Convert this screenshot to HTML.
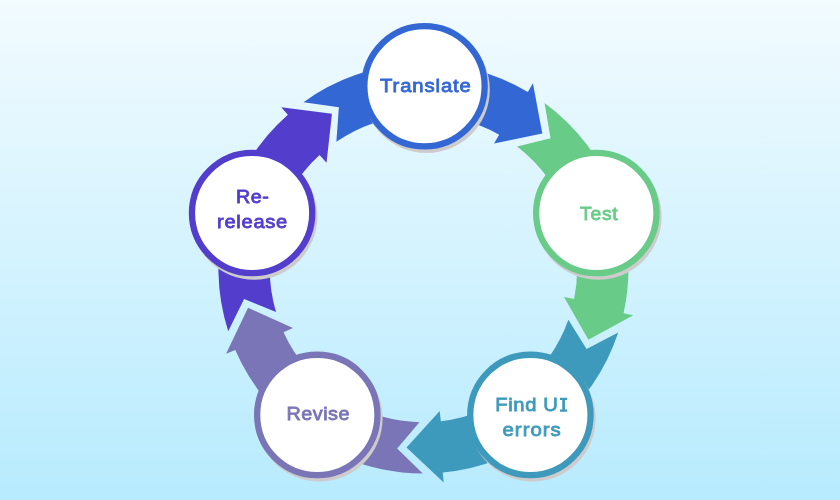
<!DOCTYPE html>
<html><head><meta charset="utf-8"><style>
html,body{margin:0;padding:0;}
body{width:840px;height:500px;overflow:hidden;background:linear-gradient(to bottom,#f2fbfe 0%,#b7ebfe 100%);}
svg{display:block;will-change:transform;}
text{font-family:"Liberation Sans",sans-serif;font-weight:normal;font-size:19.00px;stroke-width:0.80px;}
</style></head><body>
<svg width="840" height="500" viewBox="0 0 840 500">
<defs><filter id="bl" x="-10%" y="-10%" width="120%" height="120%"><feGaussianBlur stdDeviation="0.50"/></filter></defs>
<path d="M303.50 102.14 A205.05 205.05 0 0 1 527.83 91.95 L532.92 83.35 L542.32 133.62 L494.09 143.60 L499.16 134.63 A153.75 153.75 0 0 0 336.37 141.74 L338.87 107.35 Z" fill="#3367d4"/>
<path d="M544.55 102.98 A205.05 205.05 0 0 1 623.56 313.18 L633.32 315.36 L588.42 339.84 L564.02 297.05 L574.11 299.10 A153.75 153.75 0 0 0 517.05 146.47 L550.53 138.23 Z" fill="#68cc88"/>
<path d="M618.24 332.49 A205.05 205.05 0 0 1 442.75 472.59 L443.69 482.55 L406.53 447.40 L439.69 410.98 L440.85 421.21 A153.75 153.75 0 0 0 568.38 319.77 L586.57 349.07 Z" fill="#3e9abc"/>
<path d="M422.73 473.50 A205.05 205.05 0 0 1 235.26 349.89 L226.09 353.86 L248.03 307.66 L292.92 327.94 L283.54 332.21 A153.75 153.75 0 0 0 419.43 422.15 L397.18 448.49 Z" fill="#7975b6"/>
<path d="M228.22 331.13 A205.05 205.05 0 0 1 287.85 114.64 L281.23 107.14 L331.95 113.73 L326.54 162.69 L319.58 155.09 A153.75 153.75 0 0 0 276.03 312.12 L244.10 299.11 Z" fill="#523dcc"/>
<circle cx="426.50" cy="89.70" r="63.30" fill="#cdcbcb" filter="url(#bl)"/>
<circle cx="424.50" cy="86.30" r="60.15" fill="#fff" stroke="#3367d4" stroke-width="6.30"/>
<text x="380.02" y="92.16" textLength="91.69" lengthAdjust="spacingAndGlyphs" letter-spacing="0.825" fill="#3367d4" stroke="#3367d4">Translate</text>
<circle cx="598.30" cy="216.40" r="63.30" fill="#cdcbcb" filter="url(#bl)"/>
<circle cx="596.30" cy="213.00" r="60.15" fill="#fff" stroke="#68cc88" stroke-width="6.30"/>
<text x="580.10" y="220.07" textLength="38.24" lengthAdjust="spacingAndGlyphs" letter-spacing="0.757" fill="#68cc88" stroke="#68cc88">Test</text>
<circle cx="532.40" cy="418.30" r="63.30" fill="#cdcbcb" filter="url(#bl)"/>
<circle cx="530.40" cy="414.90" r="60.15" fill="#fff" stroke="#3e9abc" stroke-width="6.30"/>
<text x="495.25" y="411.01" textLength="63.27" lengthAdjust="spacingAndGlyphs" letter-spacing="0.603" fill="#3e9abc" stroke="#3e9abc">Find U</text>
<text x="502.50" y="435.92" textLength="59.27" lengthAdjust="spacingAndGlyphs" letter-spacing="0.938" fill="#3e9abc" stroke="#3e9abc">errors</text>
<circle cx="319.30" cy="418.30" r="63.30" fill="#cdcbcb" filter="url(#bl)"/>
<circle cx="317.30" cy="414.90" r="60.15" fill="#fff" stroke="#7975b6" stroke-width="6.30"/>
<text x="286.41" y="419.99" textLength="63.68" lengthAdjust="spacingAndGlyphs" letter-spacing="0.502" fill="#7975b6" stroke="#7975b6">Revise</text>
<circle cx="254.10" cy="216.40" r="63.30" fill="#cdcbcb" filter="url(#bl)"/>
<circle cx="252.10" cy="213.00" r="60.15" fill="#fff" stroke="#523dcc" stroke-width="6.30"/>
<text x="235.90" y="202.82" textLength="33.40" lengthAdjust="spacingAndGlyphs" letter-spacing="0.519" fill="#523dcc" stroke="#523dcc">Re-</text>
<text x="216.98" y="227.96" textLength="71.01" lengthAdjust="spacingAndGlyphs" letter-spacing="0.681" fill="#523dcc" stroke="#523dcc">release</text>
<path d="M560 397.8h7.2v2.2h-2.25v9.6h2.25v2.2h-7.2v-2.2h2.25v-9.6h-2.25z" fill="#3e9abc"/>
</svg>
</body></html>
